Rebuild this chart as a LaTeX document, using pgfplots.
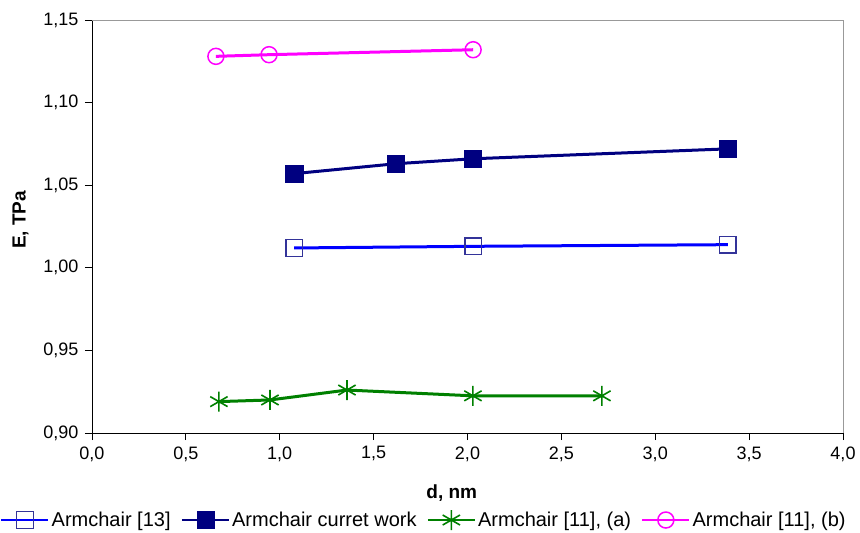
\documentclass[border=0pt]{standalone}
\usepackage{fontspec}
\setmainfont{Liberation Sans}
\usepackage{pgfplots}
\pgfplotsset{compat=1.18}

\definecolor{cBlue}{RGB}{0,0,255}
\definecolor{cBlueEdge}{RGB}{51,51,153}
\definecolor{cNavy}{RGB}{0,0,128}
\definecolor{cGreen}{RGB}{0,128,0}
\definecolor{cMagenta}{RGB}{255,0,255}

\begin{document}
\begin{tikzpicture}
\begin{axis}[
  scale only axis,
  width=751pt, height=413pt,
  xmin=0, xmax=4, ymin=0.9, ymax=1.15,
  xtick={0,0.5,...,4}, ytick={0.9,0.95,...,1.15},
  axis x line*=bottom, axis y line*=left,
  axis line style={black, line width=0.8pt},
  tick align=outside, major tick length=7pt,
  tick style={black, line width=0.8pt},
  xticklabel style={yshift=-3pt, /pgf/number format/use comma,
    /pgf/number format/fixed, /pgf/number format/fixed zerofill,
    /pgf/number format/precision=1},
  yticklabel style={xshift=-3pt, /pgf/number format/use comma,
    /pgf/number format/fixed, /pgf/number format/fixed zerofill,
    /pgf/number format/precision=2},
  /pgf/number format/assume math mode=true,
  tick label style={font=\fontsize{18}{21}\selectfont},
  xlabel={\textbf{d, nm}},
  ylabel={\textbf{E, TPa}},
  label style={font=\fontsize{19}{22}\selectfont},
  xlabel style={at={(axis description cs:0.479,-0.145)}, anchor=center},
  ylabel style={at={(axis description cs:-0.095,0.516)}, anchor=center},
  legend style={
    at={(axis description cs:-0.1225,-0.2107)}, anchor=west,
    draw=none, fill=none, inner xsep=0pt,
    font=\fontsize{20}{23}\selectfont,
    nodes={fill=none, inner xsep=2pt},
    /tikz/every even column/.append style={column sep=8pt},
  },
  legend columns=-1,
  legend image code/.code={
    \draw[line width=2.5pt] (0pt,0pt) -- (47pt,0pt);
    \draw plot coordinates {(23.5pt,0pt)};
  },
  clip=false,
]
\addplot[cBlue, line width=3pt, mark=square, mark size=8.3pt,
  mark options={draw=cBlueEdge, fill=none, line width=1.5pt}]
  coordinates {(1.077,1.012) (2.03,1.013) (3.387,1.014)};
\addlegendentry{Armchair [13]}
\addplot[cNavy, line width=3pt, mark=square*, mark size=8.6pt,
  mark options={draw=cNavy, fill=cNavy, line width=0.5pt}]
  coordinates {(1.077,1.057) (1.619,1.063) (2.029,1.066) (3.387,1.072)};
\addlegendentry{Armchair curret work}
\addplot[cGreen, line width=3pt, mark=asterisk, mark size=10pt,
  mark options={line width=1.6pt}]
  coordinates {(0.676,0.919) (0.948,0.920) (1.358,0.926) (2.029,0.9225) (2.716,0.9225)};
\addlegendentry{Armchair [11], (a)}
\addplot[cMagenta, line width=3pt, mark=o, mark size=8pt,
  mark options={line width=1.5pt, fill=none}]
  coordinates {(0.66,1.128) (0.943,1.129) (2.03,1.132)};
\addlegendentry{Armchair [11], (b)}
\end{axis}
\draw[gray!80, line width=0.8pt] (0pt,413pt) -- (751pt,413pt) -- (751pt,0pt);
\pgfresetboundingbox
\useasboundingbox (-92pt,-100pt) rectangle (768pt,433pt);
\end{tikzpicture}
\end{document}
